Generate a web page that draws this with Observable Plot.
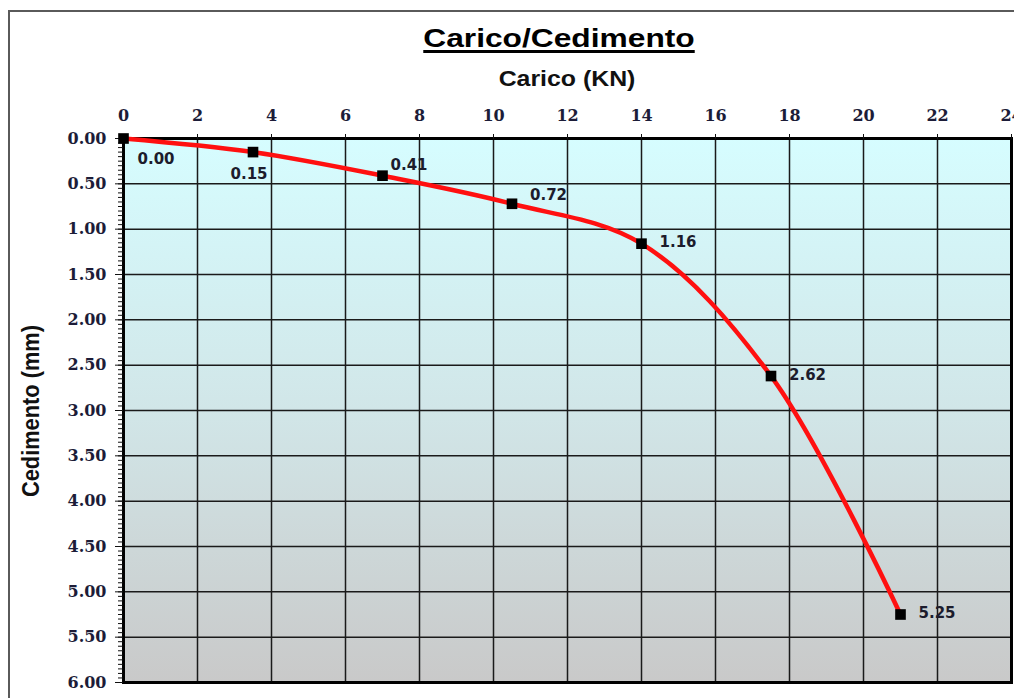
<!DOCTYPE html>
<html>
<head>
<meta charset="utf-8">
<script src="https://cdn.jsdelivr.net/npm/d3@7"></script>
<script src="https://cdn.jsdelivr.net/npm/@observablehq/plot@0.6"></script>
<style>
  html, body { margin: 0; padding: 0; background: #fff; }
  #wrap { position: relative; width: 1014px; height: 698px; overflow: hidden; }
  #border { position: absolute; left: 8px; top: 10px; width: 1100px; height: 800px;
            border-left: 2px solid #5a5a5a; border-top: 2px solid #5a5a5a; }
  #bg { position: absolute; left: 123px; top: 138px; width: 888px; height: 544px;
        background: linear-gradient(to bottom, #d6fdff 0%, #d1e6e8 50%, #c9c9c9 100%); }
  #chart { position: absolute; left: 0; top: 0; }
  .ttl { position: absolute; white-space: nowrap; line-height: 1; color: #000;
         font-family: "Liberation Sans", Arial, sans-serif; font-weight: bold; }
  #title { left: 559px; top: 25px; font-size: 26px; transform: translateX(-50%) scaleX(1.22);
           text-decoration: underline; text-decoration-thickness: 3px; text-underline-offset: 3px; }
  #subtitle { left: 567px; top: 68px; font-size: 22px; color: #111; transform: translateX(-50%) scaleX(1.13); }
  #ylabel { left: 31px; top: 411px; font-size: 20px; color: #111;
            transform: translate(-50%, -50%) rotate(-90deg) scale(1.09, 1.2); }
</style>
</head>
<body>
<div id="wrap">
  <div id="border"></div>
  <div id="bg"></div>
  <div id="chart"></div>
  <div class="ttl" id="title">Carico/Cedimento</div>
  <div class="ttl" id="subtitle">Carico (KN)</div>
  <div class="ttl" id="ylabel">Cedimento (mm)</div>
</div>
<script>
// ---- data ----
const carico = [0, 3.5, 7, 10.5, 14, 17.5, 21];            // KN
const cedimento = [0.00, 0.15, 0.41, 0.72, 1.16, 2.62, 5.25]; // mm
const pointLabels = ["0.00", "0.15", "0.41", "0.72", "1.16", "2.62", "5.25"];
const xTicks = [0, 2, 4, 6, 8, 10, 12, 14, 16, 18, 20, 22, 24];
const yTicks = [0, 0.5, 1, 1.5, 2, 2.5, 3, 3.5, 4, 4.5, 5, 5.5, 6];
const yMinorTicks = d3.range(0, 121).map(i => +(i * 0.05).toFixed(2));

const data = carico.map((x, i) => ({ carico: x, cedimento: cedimento[i], label: pointLabels[i], i }));

// label placement per point index
const placements = [
  { idx: [0], dx: 14, dy: 21, anchor: "start" },
  { idx: [1], dx: -4, dy: 22, anchor: "middle" },
  { idx: [2], dx: 8, dy: -10, anchor: "start" },
  { idx: [3], dx: 18, dy: -9, anchor: "start" },
  { idx: [4, 5, 6], dx: 18, dy: -1, anchor: "start" }
];

const tickFont = { fontFamily: "DejaVu Serif", fontWeight: "bold", fontSize: 16, fill: "#1c1c38" };

const chart = Plot.plot({
  width: 1014,
  height: 698,
  marginTop: 138,
  marginBottom: 16,
  marginLeft: 123,
  marginRight: 3,
  style: { background: "transparent", overflow: "visible" },
  x: { domain: [0, 24] },
  y: { domain: [0, 6], reverse: true },
  marks: [
    Plot.gridX(xTicks, { stroke: "#1a1a1a", strokeOpacity: 1, strokeWidth: 1.5 }),
    Plot.gridY(yTicks, { stroke: "#1a1a1a", strokeOpacity: 1, strokeWidth: 1.5 }),
    Plot.frame({ stroke: "#000", strokeWidth: 3 }),
    Plot.axisY(yMinorTicks, { tickSize: 5, fill: "none", stroke: "#111", label: null }),
    Plot.axisY(yTicks, { tickSize: 8, tickPadding: 9, tickFormat: d3.format(".2f"), stroke: "#111", label: null, ...tickFont }),
    Plot.axisX(xTicks, { anchor: "top", tickSize: 5, tickPadding: 13, stroke: "#111", label: null, ...tickFont }),
    Plot.line(data, { x: "carico", y: "cedimento", stroke: "#ff1010", strokeWidth: 4.5, curve: "catmull-rom" }),
    Plot.dot(data, { x: "carico", y: "cedimento", symbol: "square", r: 6, fill: "#000", stroke: null }),
    ...placements.map(p => Plot.text(data, {
      filter: d => p.idx.includes(d.i),
      x: "carico", y: "cedimento", text: "label",
      dx: p.dx, dy: p.dy, textAnchor: p.anchor,
      fontFamily: "DejaVu Sans", fontWeight: "bold", fontSize: 15, fill: "#1c1c2c"
    }))
  ]
});
document.getElementById("chart").appendChild(chart);
</script>
</body>
</html>
